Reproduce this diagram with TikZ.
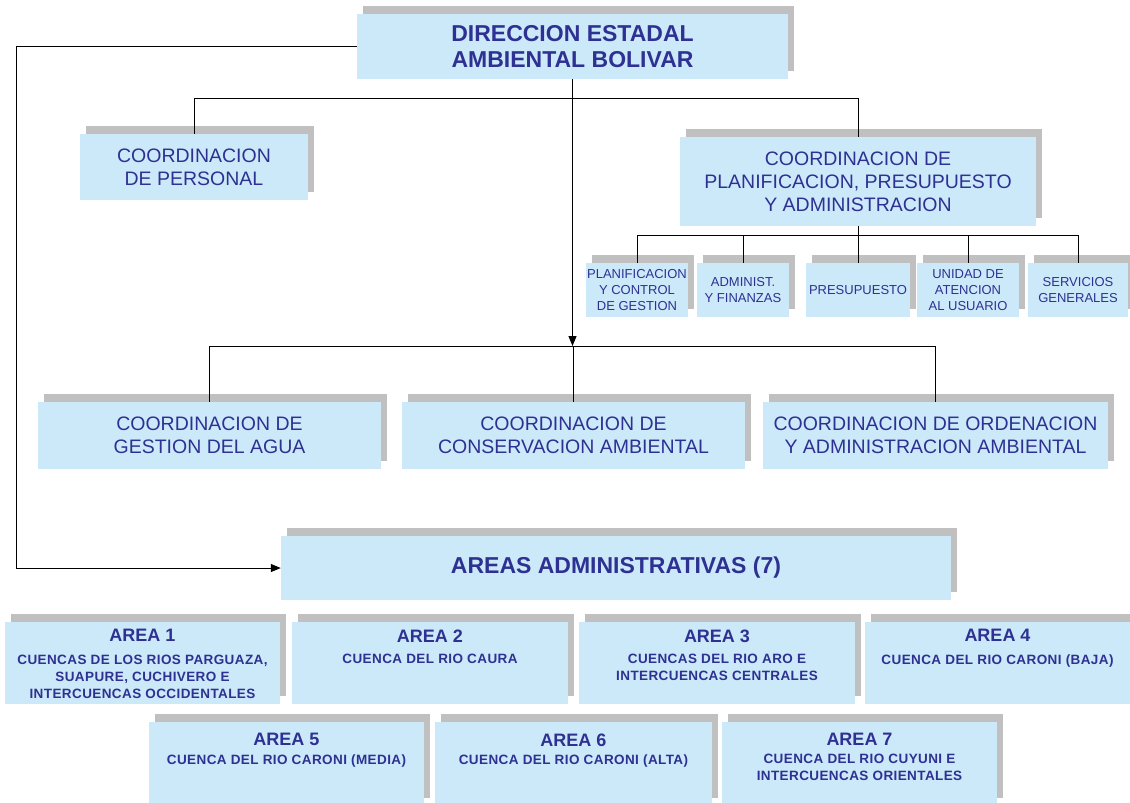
\documentclass[tikz,border=0pt]{standalone}
\usepackage{fontspec}
\setmainfont{Liberation Sans}
\newfontfamily\subfont[LetterSpace=3]{Liberation Sans}
\usetikzlibrary{shadows,arrows.meta}
\definecolor{boxblue}{RGB}{204,233,250}
\definecolor{shgray}{RGB}{192,192,192}
\definecolor{navytext}{RGB}{46,49,146}
\begin{document}
\begin{tikzpicture}[x=1pt,y=-1pt,
  box/.style={fill=boxblue, draw=none, inner sep=0pt, align=center, text=navytext,
    general shadow={fill=shgray, shadow xshift=6pt, shadow yshift=8pt}},
  bigt/.style={font=\bfseries\fontsize{23}{26}\selectfont},
  coord/.style={font=\fontsize{19.5}{23}\selectfont},
  small/.style={font=\fontsize{13}{16}\selectfont},
  areabox/.style={box, minimum width=275pt, minimum height=82pt},
  atitle/.style={anchor=north, inner sep=0pt, text=navytext, font=\bfseries\fontsize{18}{20}\selectfont},
  asub/.style={anchor=north, inner sep=0pt, text=navytext, align=center, font=\subfont\bfseries\fontsize{13.5}{17}\selectfont},
  conn/.style={draw=black, line width=1pt},
  arr/.style={conn, -{Triangle[length=10pt,width=8pt]}}]
\useasboundingbox (0,0) rectangle (1130,803);

% main boxes
\node[box, bigt, minimum width=431pt, minimum height=65pt] (top) at (572.5,46.5) {DIRECCION ESTADAL\\AMBIENTAL BOLIVAR};
\node[box, coord, minimum width=228pt, minimum height=66pt] (pers) at (194,167) {COORDINACION\\DE PERSONAL};
\node[box, coord, minimum width=356pt, minimum height=89pt] (plan) at (858,181.5) {COORDINACION DE\\PLANIFICACION, PRESUPUESTO\\Y ADMINISTRACION};

% small boxes
\node[box, small, minimum width=102pt, minimum height=54pt] (s1) at (637,290) {PLANIFICACION\\Y CONTROL\\DE GESTION};
\node[box, small, minimum width=92pt, minimum height=54pt] (s2) at (743,290) {ADMINIST.\\Y FINANZAS};
\node[box, small, minimum width=104pt, minimum height=54pt] (s3) at (858,290) {PRESUPUESTO};
\node[box, small, minimum width=102pt, minimum height=54pt] (s4) at (968,290) {UNIDAD DE\\ATENCION\\AL USUARIO};
\node[box, small, minimum width=100pt, minimum height=54pt] (s5) at (1078,290) {SERVICIOS\\GENERALES};

% third row
\node[box, coord, minimum width=343pt, minimum height=67pt] (agua) at (209.5,435.5) {COORDINACION DE\\GESTION DEL AGUA};
\node[box, coord, minimum width=343pt, minimum height=67pt] (cons) at (573.5,435.5) {COORDINACION DE\\CONSERVACION AMBIENTAL};
\node[box, coord, minimum width=345pt, minimum height=67pt] (orden) at (935.5,435.5) {COORDINACION DE ORDENACION\\Y ADMINISTRACION AMBIENTAL};

% areas
\node[box, font=\bfseries\fontsize{23}{26}\selectfont, minimum width=670pt, minimum height=64pt] (areas) at (616,568) {AREAS ADMINISTRATIVAS (7)};

\node[areabox] (a1) at (142.5,663) {};
\node[areabox, minimum width=276pt] (a2) at (430,663) {};
\node[areabox, minimum width=276pt] (a3) at (717,663) {};
\node[areabox] (a4) at (1002.5,663) {};
\node[areabox, minimum height=84pt] (a5) at (286.5,764) {};
\node[areabox, minimum height=84pt, minimum width=277pt] (a6) at (573.5,764) {};
\node[areabox, minimum height=84pt] (a7) at (859.5,764) {};

\node[atitle] (a1t) at ([yshift=-7.5pt]a1.north) {AREA 1};
\node[asub] (a1s) at ([yshift=-33pt]a1.north) {CUENCAS DE LOS RIOS PARGUAZA,\\SUAPURE, CUCHIVERO E\\INTERCUENCAS OCCIDENTALES};
\node[atitle] (a2t) at ([yshift=-7.5pt]a2.north) {AREA 2};
\node[asub] (a2s) at ([yshift=-32.5pt]a2.north) {CUENCA DEL RIO CAURA};
\node[atitle] (a3t) at ([yshift=-7.5pt]a3.north) {AREA 3};
\node[asub] (a3s) at ([yshift=-32.5pt]a3.north) {CUENCAS DEL RIO ARO E\\INTERCUENCAS CENTRALES};
\node[atitle] (a4t) at ([xshift=-5pt, yshift=-7.5pt]a4.north) {AREA 4};
\node[asub] (a4s) at ([xshift=-5pt, yshift=-32.5pt]a4.north) {CUENCA DEL RIO CARONI (BAJA)};
\node[atitle] (a5t) at ([yshift=-11.5pt]a5.north) {AREA 5};
\node[asub] (a5s) at ([yshift=-32.5pt]a5.north) {CUENCA DEL RIO CARONI (MEDIA)};
\node[atitle] (a6t) at ([yshift=-11.5pt]a6.north) {AREA 6};
\node[asub] (a6s) at ([yshift=-32.5pt]a6.north) {CUENCA DEL RIO CARONI (ALTA)};
\node[atitle] (a7t) at ([yshift=-11.5pt]a7.north) {AREA 7};
\node[asub] (a7s) at ([yshift=-32.5pt]a7.north) {CUENCA DEL RIO CUYUNI E\\INTERCUENCAS ORIENTALES};

% connectors
\coordinate (lc) at (16,47);
\draw[arr] (top.west) -- (top.west -| lc) |- (areas.west);

\coordinate (j) at (573,346);
\draw[arr] (top.south) -- (top.south |- j);
\draw[conn] (agua.north |- j) -- (orden.north |- j);
\draw[conn] (agua.north |- j) -- (agua.north);
\draw[conn] (cons.north |- j) -- (cons.north);
\draw[conn] (orden.north |- j) -- (orden.north);

\coordinate (h1) at (0,98);
\draw[conn] (pers.north) -- (pers.north |- h1) -- (plan.north |- h1) -- (plan.north);

\coordinate (h2) at (0,235);
\draw[conn] (plan.south) -- (plan.south |- h2);
\draw[conn] (s1.north |- h2) -- (s5.north |- h2);
\foreach \s in {s1,s2,s3,s4,s5} \draw[conn] (\s.north |- h2) -- (\s.north);
\end{tikzpicture}
\end{document}
